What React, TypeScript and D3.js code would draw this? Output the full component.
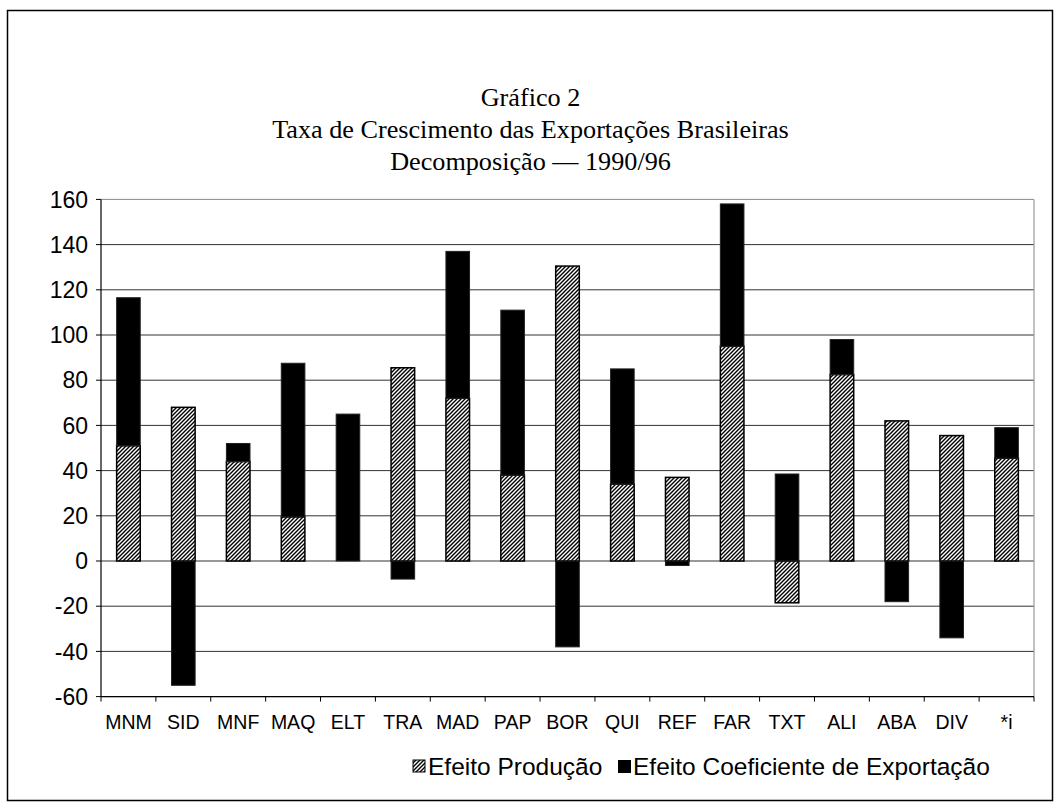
import React from "react";
import * as d3 from "d3";

// categorias e valores
const categories = ["MNM", "SID", "MNF", "MAQ", "ELT", "TRA", "MAD", "PAP", "BOR", "QUI", "REF", "FAR", "TXT", "ALI", "ABA", "DIV", "*i"];
const efeitoProducao = [51, 68, 44, 19.5, 0, 85.5, 72, 38, 130.5, 34, 37, 95, -18.5, 82.5, 62, 55.5, 45.5];
const efeitoCoeficiente = [65.5, -55, 8, 68, 65, -8, 65, 73, -38, 51, -2, 63, 38.5, 15.5, -18, -34, 13.5];
const yTicks = [-60, -40, -20, 0, 20, 40, 60, 80, 100, 120, 140, 160];
const titleLines = ["Gráfico 2", "Taxa de Crescimento das Exportações Brasileiras", "Decomposição — 1990/96"];
const seriesNames = ["Efeito Produção", "Efeito Coeficiente de Exportação"];

const W = 1061;
const H = 809;
const plot = { left: 101, right: 1034, top: 199.4, bottom: 696.6 };
const sans = "'Liberation Sans', Arial, sans-serif";
const serif = "'Liberation Serif', 'Times New Roman', serif";

export default function App() {
  const rows = categories.map((c, i) => ({ cat: c, prod: efeitoProducao[i], coef: efeitoCoeficiente[i] }));

  const x = d3.scaleBand().domain(categories).range([plot.left, plot.right]).paddingInner(0.57).paddingOuter(0.285);
  const y = d3.scaleLinear().domain([-60, 160]).range([plot.bottom, plot.top]);

  // empilhamento com valores negativos para baixo
  const stacked = d3.stack<any>().keys(["prod", "coef"]).offset(d3.stackOffsetDiverging)(rows);

  const step = x.step();
  const boundaries = categories.map((_, i) => plot.left + i * step).concat([plot.right]);

  return (
    <svg width={W} height={H} style={{ position: "absolute", left: 0, top: 0, background: "#fff" }}>
      <defs>
        <pattern id="hatch" patternUnits="userSpaceOnUse" width="4" height="4">
          <rect width="4" height="4" fill="#fff" />
          <path d="M-1,1 l2,-2 M0,4 l4,-4 M3,5 l2,-2" stroke="#000" strokeWidth="1.4" />
        </pattern>
      </defs>

      <rect x={7.5} y={10.5} width={1045} height={790} fill="none" stroke="#000" strokeWidth={1.5} />

      {titleLines.map((t, i) => (
        <text key={i} x={W / 2} y={106 + i * 32} textAnchor="middle" fontFamily={serif} fontSize={26.2} fill="#000">
          {t}
        </text>
      ))}

      {/* grade */}
      {yTicks.map((t) => (
        <line key={t} x1={plot.left} x2={plot.right} y1={y(t)} y2={y(t)} stroke={t === 160 || t === -60 ? "#888" : "#333"} strokeWidth={1} />
      ))}
      <line x1={plot.right} x2={plot.right} y1={plot.top} y2={plot.bottom} stroke="#999" strokeWidth={1.2} />

      {/* barras */}
      {stacked.map((s, si) => (
        <g key={s.key}>
          {s.map((d, i) => {
            const y0 = y(d[0]);
            const y1 = y(d[1]);
            const h = Math.abs(y0 - y1);
            if (h < 0.1) return null;
            return (
              <rect
                key={i}
                x={x(categories[i])}
                y={Math.min(y0, y1)}
                width={x.bandwidth()}
                height={h}
                fill={si === 0 ? "url(#hatch)" : "#000"}
                stroke={si === 0 ? "#000" : "#222"}
                strokeWidth={si === 0 ? 1.5 : 1}
              />
            );
          })}
        </g>
      ))}

      {/* eixo y */}
      <line x1={plot.left} x2={plot.left} y1={plot.top} y2={plot.bottom} stroke="#000" strokeWidth={1.2} />
      {yTicks.map((t) => (
        <g key={t}>
          <line x1={plot.left - 5} x2={plot.left} y1={y(t)} y2={y(t)} stroke="#000" />
          <text x={88} y={y(t)} dy="0.36em" textAnchor="end" fontFamily={sans} fontSize={23} fill="#000">
            {t}
          </text>
        </g>
      ))}

      {/* eixo x */}
      <line x1={plot.left} x2={plot.right} y1={plot.bottom} y2={plot.bottom} stroke="#000" strokeWidth={1.2} />
      {boundaries.map((b, i) => (
        <line key={i} x1={b} x2={b} y1={plot.bottom} y2={plot.bottom + 5} stroke="#000" />
      ))}
      {categories.map((c) => (
        <text key={c} x={(x(c) as number) + x.bandwidth() / 2} y={722} dy="0.36em" textAnchor="middle" fontFamily={sans} fontSize={19.5} fill="#000">
          {c}
        </text>
      ))}

      {/* legenda */}
      <rect x={413} y={760} width={12} height={12} fill="url(#hatch)" stroke="#000" strokeWidth={1} />
      <text x={428} y={766} dy="0.36em" fontFamily={sans} fontSize={24.5} fill="#000">
        {seriesNames[0]}
      </text>
      <rect x={618} y={760} width={13} height={13} fill="#000" />
      <text x={633} y={766} dy="0.36em" fontFamily={sans} fontSize={24.5} fill="#000">
        {seriesNames[1]}
      </text>
    </svg>
  );
}
